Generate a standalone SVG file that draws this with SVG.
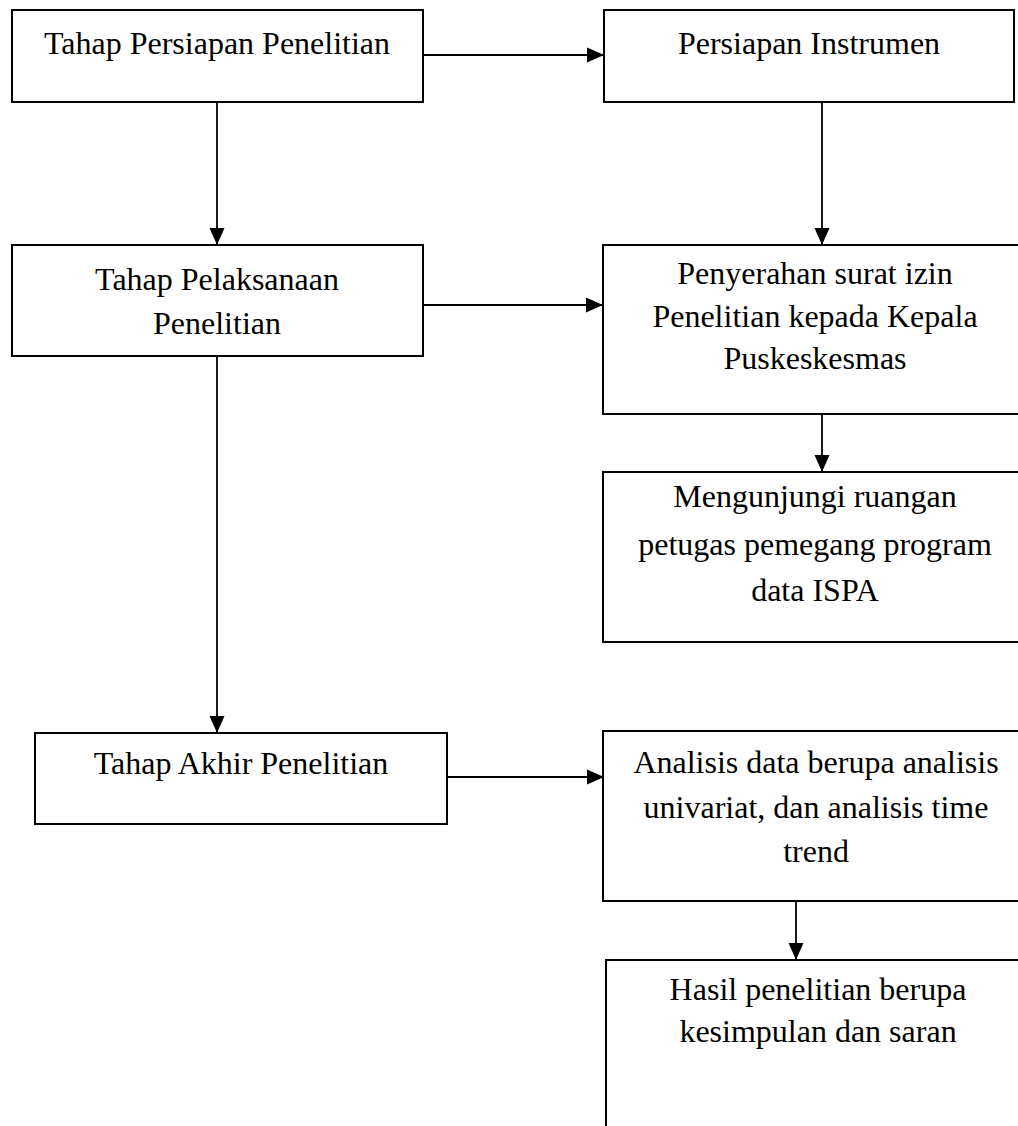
<svg xmlns="http://www.w3.org/2000/svg" width="1018" height="1126" viewBox="0 0 1018 1126">
<style>
.box{fill:#fff;stroke:#000;stroke-width:2}
.t{font-family:"Liberation Serif","Times New Roman",serif;font-size:32px;fill:#000;text-anchor:middle}
.c{stroke:#000;stroke-width:1.8;fill:none;marker-end:url(#ah)}
</style>
<defs>
<marker id="ah" markerUnits="userSpaceOnUse" markerWidth="17" markerHeight="17" viewBox="0 0 17 17" refX="17" refY="8.5" orient="auto">
<path d="M0,1 L17,8.5 L0,16 z" fill="#000"/>
</marker>
</defs>
<rect width="1018" height="1126" fill="#fff"/>
<g id="connectors">
<line class="c" x1="423" y1="55" x2="604" y2="55"/>
<line class="c" x1="217" y1="102" x2="217" y2="245"/>
<line class="c" x1="822" y1="102" x2="822" y2="245"/>
<line class="c" x1="423" y1="305" x2="603" y2="305"/>
<line class="c" x1="822" y1="414" x2="822" y2="472"/>
<line class="c" x1="217" y1="356" x2="217" y2="733"/>
<line class="c" x1="447" y1="777" x2="604" y2="777"/>
<line class="c" x1="796" y1="901" x2="796" y2="960"/>
</g>
<g id="n1">
<rect class="box" x="12" y="10" width="411" height="92"/>
<text class="t" x="217" y="54">Tahap Persiapan Penelitian</text>
</g>
<g id="n2">
<rect class="box" x="604" y="10" width="410" height="92"/>
<text class="t" x="809" y="54">Persiapan Instrumen</text>
</g>
<g id="n3">
<rect class="box" x="12" y="245" width="411" height="111"/>
<text class="t" x="217" y="290">Tahap Pelaksanaan</text>
<text class="t" x="217" y="334">Penelitian</text>
</g>
<g id="n4">
<rect class="box" x="603" y="245" width="430" height="169"/>
<text class="t" x="815" y="284">Penyerahan surat izin</text>
<text class="t" x="815" y="327">Penelitian kepada Kepala</text>
<text class="t" x="815" y="369">Puskeskesmas</text>
</g>
<g id="n5">
<rect class="box" x="603" y="472" width="430" height="170"/>
<text class="t" x="815" y="507">Mengunjungi ruangan</text>
<text class="t" x="815" y="555">petugas pemegang program</text>
<text class="t" x="815" y="601">data ISPA</text>
</g>
<g id="n6">
<rect class="box" x="35" y="733" width="412" height="91"/>
<text class="t" x="241" y="774">Tahap Akhir Penelitian</text>
</g>
<g id="n7">
<rect class="box" x="603" y="731" width="430" height="170"/>
<text class="t" x="816" y="773">Analisis data berupa analisis</text>
<text class="t" x="816" y="818">univariat, dan analisis time</text>
<text class="t" x="816" y="862">trend</text>
</g>
<g id="n8">
<rect class="box" x="606" y="960" width="430" height="200"/>
<text class="t" x="818" y="1000">Hasil penelitian berupa</text>
<text class="t" x="818" y="1042">kesimpulan dan saran</text>
</g>
</svg>
